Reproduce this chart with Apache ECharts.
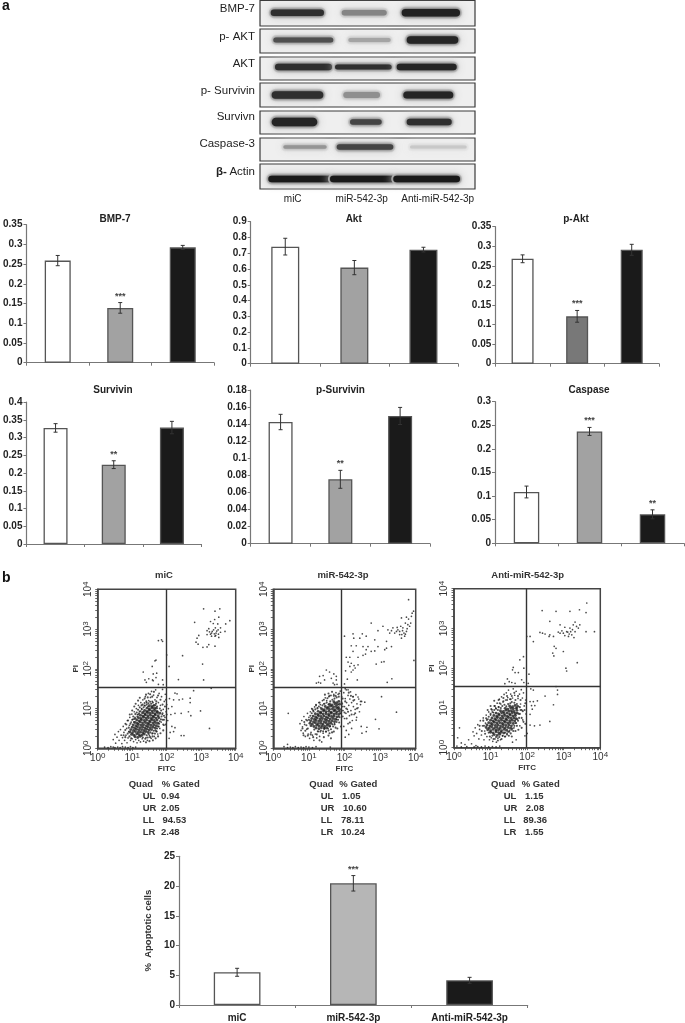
<!DOCTYPE html>
<html><head><meta charset="utf-8">
<script src="https://cdn.jsdelivr.net/npm/echarts@6/dist/echarts.min.js"></script>
<style>html,body{margin:0;padding:0;background:#fff}#c{width:685px;height:1023px;filter:blur(0.35px)}</style>
</head><body><div id="c"></div>
<script>
// ---------- DATA ----------
const categories = ['miC', 'miR-542-3p', 'Anti-miR-542-3p'];
const bmp7Values = [0.259, 0.139, 0.2925], bmp7Errors = [0.013, 0.0135, 0.005], bmp7Stars = ['', '***', ''];
const aktValues = [0.742, 0.609, 0.723], aktErrors = [0.053, 0.045, 0.015], aktStars = ['', '', ''];
const pAktValues = [0.268, 0.121, 0.291], pAktErrors = [0.01, 0.015, 0.014], pAktStars = ['', '***', ''];
const survivinValues = [0.327, 0.2235, 0.328], survivinErrors = [0.012, 0.011, 0.0175], survivinStars = ['', '**', ''];
const pSurvivinValues = [0.1425, 0.0754, 0.1496], pSurvivinErrors = [0.009, 0.0105, 0.01], pSurvivinStars = ['', '**', ''];
const caspaseValues = [0.1087, 0.237, 0.0614], caspaseErrors = [0.0125, 0.0085, 0.0095], caspaseStars = ['', '***', '**'];
const apoptoticValues = [5.5, 20.46, 4.15], apoptoticErrors = [0.67, 1.3, 0.5], apoptoticStars = ['', '***', ''];

const quadNames = ['UL', 'UR', 'LL', 'LR'];
const gatedMiC = ['0.94', '2.05', '94.53', '2.48'];
const gatedMiR = ['1.05', '10.60', '78.11', '10.24'];
const gatedAnti = ['1.15', '2.08', '89.36', '1.55'];

const blotLabels = ['BMP-7', 'p- AKT', 'AKT', 'p- Survivin', 'Survivn', 'Caspase-3'];

// Western blot band densities, row by lane (0..1)
const bandDensity = [
  [0.9, 0.5, 0.96], [0.75, 0.35, 0.95], [0.9, 0.9, 0.95],
  [0.9, 0.45, 0.95], [0.95, 0.8, 0.9], [0.42, 0.8, 0.18], [1, 1, 1]
];

const logDecades = [1, 10, 100, 1000, 10000];
const logTicks = [1,2,3,4,5,6,7,8,9,10,20,30,40,50,60,70,80,90,100,200,300,400,500,600,700,800,900,1000,2000,3000,4000,5000,6000,7000,8000,9000,10000];

// Flow cytometry events, [log10 FITC, log10 PI]: the crowded centre of each population
const coreMiC = [
[1.08,.29],[1.16,.27],[1.23,.3],[.98,.35],[1.05,.33],[1.13,.36],[1.2,.34],[1.28,.33],[1.35,.36],[.93,.41],[1.01,.39],[1.09,.42],[1.17,.4],[1.24,.41],[1.31,.39],[1.39,.42],[1.46,.4],[.96,.47],[1.04,.45],[1.12,.48],[1.19,.46],[1.27,.47],[1.34,.45],[1.42,.48],[1.49,.46],[1.56,.47],[1.0,.53],[1.07,.51],[1.15,.54],[1.22,.52],[1.3,.53],[1.37,.51],[1.45,.54],[1.52,.52],[1.6,.53],[1.67,.51],[1.03,.59],[1.11,.57],[1.18,.6],[1.26,.58],[1.33,.59],[1.41,.57],[1.48,.6],[1.55,.58],[1.63,.59],[1.7,.57],[1.08,.65],[1.15,.63],[1.23,.66],[1.3,.64],[1.38,.65],[1.45,.63],[1.52,.66],[1.6,.64],[1.67,.65],[1.74,.63],[1.13,.71],[1.2,.69],[1.27,.72],[1.35,.7],[1.42,.71],[1.5,.69],[1.57,.72],[1.64,.7],[1.72,.71],[1.18,.77],[1.25,.75],[1.33,.78],[1.4,.76],[1.47,.77],[1.55,.75],[1.62,.78],[1.69,.76],[1.77,.77],[1.24,.83],[1.31,.81],[1.38,.84],[1.45,.82],[1.53,.83],[1.6,.81],[1.67,.84],[1.75,.82],[1.3,.89],[1.37,.87],[1.44,.9],[1.51,.88],[1.59,.89],[1.66,.87],[1.73,.9],[1.8,.88],[1.36,.95],[1.43,.93],[1.5,.96],[1.58,.94],[1.65,.95],[1.72,.93],[1.43,1.01],[1.5,.99],[1.57,1.02],[1.64,1.0],[1.7,1.01],[1.5,1.07],[1.58,1.05],[1.65,1.08]
];
const coreMiR = [
[1.2,.51],[1.28,.49],[1.35,.52],[1.43,.5],[1.5,.51],[1.06,.57],[1.14,.55],[1.22,.58],[1.29,.56],[1.37,.57],[1.44,.55],[1.51,.58],[1.58,.56],[1.03,.63],[1.1,.61],[1.18,.64],[1.25,.62],[1.33,.63],[1.4,.61],[1.48,.64],[1.55,.62],[1.62,.63],[1.05,.69],[1.13,.67],[1.2,.7],[1.28,.68],[1.35,.69],[1.43,.67],[1.5,.7],[1.57,.68],[1.65,.69],[1.72,.67],[1.08,.75],[1.16,.73],[1.23,.76],[1.31,.74],[1.38,.75],[1.46,.73],[1.53,.76],[1.6,.74],[1.68,.75],[1.75,.73],[1.12,.81],[1.19,.79],[1.27,.82],[1.34,.8],[1.42,.81],[1.49,.79],[1.57,.82],[1.64,.8],[1.71,.81],[1.79,.79],[1.18,.87],[1.25,.85],[1.33,.88],[1.4,.86],[1.48,.87],[1.55,.85],[1.62,.88],[1.7,.86],[1.77,.87],[1.84,.85],[1.26,.93],[1.33,.91],[1.41,.94],[1.48,.92],[1.56,.93],[1.63,.91],[1.71,.94],[1.78,.92],[1.85,.93],[1.36,.99],[1.43,.97],[1.51,1.0],[1.58,.98],[1.66,.99],[1.73,.97],[1.8,1.0],[1.86,.98],[1.46,1.05],[1.54,1.03],[1.61,1.06],[1.69,1.04],[1.76,1.05],[1.83,1.03],[1.58,1.11],[1.65,1.09],[1.73,1.12],[1.8,1.1],[1.86,1.11],[1.7,1.17],[1.78,1.15],[1.84,1.18]
];
const coreAnti = [
[1.1,.33],[1.18,.31],[1.25,.34],[1.0,.39],[1.07,.37],[1.15,.4],[1.22,.38],[1.29,.39],[1.36,.37],[.92,.45],[1.0,.43],[1.07,.46],[1.15,.44],[1.22,.45],[1.3,.43],[1.37,.46],[1.44,.44],[.88,.51],[.96,.49],[1.03,.52],[1.11,.5],[1.18,.51],[1.26,.49],[1.33,.52],[1.4,.5],[1.48,.51],[1.55,.49],[.9,.57],[.98,.55],[1.05,.58],[1.13,.56],[1.2,.57],[1.27,.55],[1.35,.58],[1.42,.56],[1.5,.57],[1.57,.55],[.95,.63],[1.02,.61],[1.1,.64],[1.17,.62],[1.25,.63],[1.32,.61],[1.4,.64],[1.47,.62],[1.54,.63],[1.62,.61],[1.0,.69],[1.07,.67],[1.15,.7],[1.22,.68],[1.3,.69],[1.37,.67],[1.44,.7],[1.52,.68],[1.59,.69],[1.66,.67],[1.04,.75],[1.12,.73],[1.19,.76],[1.27,.74],[1.34,.75],[1.42,.73],[1.49,.76],[1.56,.74],[1.64,.75],[1.7,.73],[1.09,.81],[1.17,.79],[1.24,.82],[1.32,.8],[1.39,.81],[1.46,.79],[1.54,.82],[1.61,.8],[1.68,.81],[1.15,.87],[1.22,.85],[1.3,.88],[1.37,.86],[1.45,.87],[1.52,.85],[1.59,.88],[1.67,.86],[1.73,.87],[1.27,.93],[1.35,.91],[1.42,.94],[1.5,.92],[1.57,.93],[1.64,.91],[1.72,.94],[1.4,.99],[1.47,.97],[1.55,1.0],[1.62,.98],[1.7,.99],[1.52,1.05],[1.6,1.03],[1.67,1.06],[1.74,1.04]
];
// the edge of each crowded centre
const fringeMiC = [
[.95,.62],[1.0,.72],[1.05,.66],[1.03,.8],[1.1,.75],[1.09,.86],[1.15,.8],[1.13,.9],[1.2,.88],[1.17,.97],[1.24,.93],[1.22,1.03],[1.28,.98],[1.27,1.08],[1.33,1.03],[1.32,.92],[1.37,1.07],[1.36,1.14],[1.42,1.1],[1.41,1.18],[1.47,1.13],[1.46,1.05],[1.52,1.17],[1.55,1.12],[1.6,1.15],[1.62,1.08],[1.69,1.12],[1.72,1.05],[1.06,.74],[1.18,.85],
[1.42,.33],[1.48,.36],[1.53,.4],[1.58,.37],[1.62,.44],[1.67,.45],[1.72,.5],[1.75,.55],[1.78,.62],[1.8,.68],[1.83,.73],[1.85,.8],[1.88,.88],[1.84,.95],[1.8,1.0],[1.77,.55],[1.71,.42],[1.66,.37],[1.59,.3],[1.52,.28],[1.45,.27],[1.38,.24],[1.31,.27],[1.88,.72],[1.92,.82],[1.9,.6],
[.75,.33],[.8,.46],[.87,.37],[.83,.6],[.9,.52],[.88,.7],[.8,.28],[.92,.3],[.97,.25],[.93,.85],[1.0,.95],[1.06,1.05],[1.1,1.12],[1.17,1.2],[1.22,1.27],[1.3,1.1],[1.36,1.25],[1.4,1.35],[1.45,1.28],[1.52,1.36],[1.58,1.3],[1.63,1.42],[1.7,1.18],[1.75,1.33],[1.82,1.22],[1.88,1.1],[1.95,1.05],[1.98,1.22],[1.92,.72],[2.0,.85],[1.97,.6],[1.9,.45],[1.82,.38],[1.75,.3],[1.68,.25],[1.6,.2],[1.5,.18],[1.4,.15]
];
const fringeMiR = [
[1.0,.72],[1.04,.82],[1.08,.88],[1.13,.93],[1.18,.98],[1.24,1.0],[1.28,1.05],[1.33,1.02],[1.38,1.08],[1.44,1.12],[1.5,1.15],[1.55,1.1],[1.6,1.18],[1.66,1.22],[1.72,1.25],[1.78,1.28],[1.84,1.3],[1.1,.98],[1.2,1.08],[1.3,1.15],[1.42,1.22],[1.52,1.26],[1.58,1.32],[1.7,1.32],
[1.55,.45],[1.62,.48],[1.68,.55],[1.72,.6],[1.78,.66],[1.82,.72],[1.86,.78],[1.88,.88],[1.92,.95],[1.95,1.05],[1.92,1.15],[1.75,.52],[1.65,.4],[1.58,.38],[1.48,.42],[1.4,.43],[1.32,.42],[1.25,.43],[1.15,.47],[1.85,.65],[1.95,.8],[2.0,.9],[2.05,1.0],[2.02,1.18],[2.06,.75],[2.1,.92],
[.82,.5],[.87,.66],[.93,.58],[.9,.44],[.97,.5],[.95,.7],[.85,.33],[.97,.32],[1.05,.35],[1.12,.28],[1.22,.35],[1.3,.2],[1.42,.28],[1.55,.32],[1.62,.25],[1.7,.42],[1.8,.5],[1.9,.55],[2.15,.65],[2.2,.85],[2.3,.88],[2.25,1.2],[2.35,1.0],[2.18,1.32],[2.12,1.4],[1.95,1.25],[1.85,1.38],[1.75,1.32],[1.65,1.42],[1.55,1.38],[1.45,1.35]
];
const fringeAnti = [
[.9,.7],[.95,.78],[1.0,.85],[1.05,.9],[1.1,.95],[1.15,.98],[1.2,.95],[1.22,1.02],[1.28,1.0],[1.32,1.05],[1.38,1.08],[1.43,1.04],[1.48,1.1],[1.54,1.12],[1.58,1.15],[1.65,1.13],[1.72,1.1],[1.02,.97],[1.12,1.05],[1.25,1.12],[1.35,1.17],[1.45,1.2],[1.55,1.22],[1.68,1.2],
[1.4,.38],[1.48,.4],[1.52,.43],[1.6,.48],[1.65,.55],[1.7,.62],[1.75,.68],[1.78,.75],[1.8,.85],[1.82,.95],[1.8,1.02],[1.72,.55],[1.62,.42],[1.55,.36],[1.45,.33],[1.33,.3],[1.24,.27],[1.15,.27],[1.05,.3],[1.85,.75],[1.88,.92],[1.9,.65],
[.7,.55],[.76,.42],[.82,.55],[.85,.35],[.8,.68],[.88,.74],[.95,.38],[.98,.28],[1.08,.22],[1.2,.18],[1.3,.22],[1.4,.28],[1.5,.3],[1.58,.28],[1.68,.42],[1.76,.45],[1.85,.5],[1.95,.6],[1.93,.95],[1.95,1.12],[1.82,1.2],[1.75,1.3],[1.65,1.38],[1.58,1.3],[1.45,1.3],[1.35,1.25],[1.22,1.2],[1.1,1.18],[1.0,1.05],[.92,.95]
];
// the remaining events
const eventsMiC = [
[.45,.22],[.5,.35],[.52,.13],[.56,.28],[.6,.42],[.62,.2],[.66,.47],[.68,.33],[.7,.12],[.72,.27],[.74,.55],[.76,.4],[.78,.2],[.8,.62],[.82,.33],[.84,.5],[.85,.14],[.86,.7],[.88,.26],[.9,.42],[.92,.58],[.93,.78],[.95,.2],[.97,.66],[.99,.86],[1.0,.24],[1.02,.73],[1.04,.17],[1.06,.92],[1.08,.78],[1.1,.22],[1.12,1.0],[1.14,.14],[1.15,.85],[1.18,1.08],[1.19,.2],[1.21,.93],[1.24,.16],[1.25,1.15],[1.27,1.0],[1.29,.24],[1.31,1.22],[1.33,.18],[1.35,1.08],[1.38,1.3],[1.4,.27],[1.42,1.15],[1.44,.2],[1.47,1.38],[1.48,1.2],[1.5,.32],[1.53,1.28],[1.55,.25],[1.56,1.43],[1.58,1.18],[1.6,.38],[1.62,1.34],[1.64,.3],[1.66,1.22],[1.68,1.47],[1.7,.43],[1.72,1.28],[1.74,.36],[1.76,1.15],[1.78,1.38],[1.8,.5],[1.82,1.08],[1.84,.66],[1.85,1.3],[1.87,.85],[1.88,1.48],[1.9,.98],[1.92,.58],[1.93,1.18],[1.95,.78],[1.96,1.36],[1.98,.92],[2.0,1.1],[2.03,.7],[2.05,1.0],[2.08,1.25],[2.1,.4],[2.12,.85],
[.2,.03],[.3,.02],[.38,.04],[.45,.03],[.5,.02],[.58,.03],[.65,.02],[.72,.04],[.8,.03],[.88,.02],[.95,.04],[1.02,.02],[1.1,.03],
[2.24,1.39],[2.3,1.37],[2.46,1.24],[2.68,1.26],[2.68,1.15],[2.36,1.22],[2.2,1.22],[2.15,1.05],[2.24,.88],[2.42,.88],[2.63,.92],[2.7,.82],[2.98,.94],[3.24,.5],[2.15,.55],[2.24,.52],[2.2,.42],[2.42,.32],[2.5,.32],[2.07,.25],[2.78,1.45],[3.29,1.51],
[1.32,1.92],[1.58,2.06],[1.66,2.20],[1.69,2.22],[1.76,2.71],[1.85,2.73],[1.88,2.69],[1.61,1.87],[1.71,1.89],[1.69,1.78],[1.59,1.72],[1.48,1.75],[1.37,1.72],[1.41,1.66],[1.61,1.70],[1.76,1.61],[1.88,1.72],[1.9,1.6],
[3.07,3.51],[3.40,3.45],[3.54,3.51],[3.51,3.30],[3.39,3.24],[3.27,3.19],[3.35,3.14],[3.48,3.13],[3.83,3.21],[3.71,3.13],[2.81,3.17],[3.56,3.03],[3.41,3.03],[3.22,3.01],[3.17,2.96],[3.32,2.94],[3.49,2.98],[3.56,2.92],[3.43,2.90],[3.27,2.87],[3.17,2.86],[3.69,2.94],[3.40,2.82],[3.51,2.79],[2.93,2.84],[2.88,2.77],[2.85,2.67],[2.91,2.62],[3.05,2.54],[3.22,2.61],[3.17,2.55],[3.40,2.57],[2.46,2.33],[2.0,2.35],[2.07,2.06],[3.04,2.12],[3.07,1.72],[2.34,1.73],[3.3,2.9],[3.38,2.88],[3.45,2.95],[3.36,2.98],[3.5,2.87],[3.3,2.82],[3.42,2.84],[3.24,2.93]
];
const eventsMiR = [
[.75,.62],[.78,.45],[.8,.7],[.82,.54],[.84,.38],[.86,.8],[.88,.6],[.9,.3],[.92,.72],[.94,.48],[.96,.88],[.98,.36],[1.0,.78],[1.02,.25],[1.04,.92],[1.06,.4],[1.08,1.0],[1.1,.33],[1.12,.95],[1.14,.2],[1.16,1.04],[1.18,.36],[1.2,1.1],[1.22,.26],[1.24,1.02],[1.26,.42],[1.28,1.15],[1.3,.3],[1.32,1.1],[1.34,.45],[1.36,.16],[1.38,1.2],[1.4,.38],[1.42,1.12],[1.44,.5],[1.46,1.27],[1.48,.42],[1.5,1.2],[1.54,.5],[1.56,1.3],[1.6,.55],[1.62,1.33],[1.66,.6],[1.7,1.36],[1.72,.62],[1.76,1.4],[1.78,.72],[1.82,1.36],[1.84,.8],[1.88,1.44],[1.9,.88],
[1.92,1.3],[1.94,1.12],[1.96,.95],[1.98,1.4],[2.0,1.05],[2.0,.75],[2.02,1.25],[2.04,.88],[2.05,1.47],[2.06,1.15],[2.08,.98],[2.1,1.33],[2.1,.62],[2.12,1.08],[2.14,.82],[2.15,1.24],[2.17,1.42],[2.18,.95],[2.2,1.15],[2.22,.7],[2.24,1.3],[2.25,1.05],[2.27,.85],[2.28,1.22],[2.3,.98],[2.32,1.35],[2.34,.78],[2.35,1.12],[2.38,1.02],[2.4,1.24],[2.42,.92],[2.45,1.1],[2.48,1.18],[2.05,.45],[2.12,.35],[1.98,.55],[2.02,.28],[2.2,.5],
[.42,.88],[.3,.04],[.4,.02],[.48,.03],[.55,.02],[.62,.04],[.7,.02],[.78,.03],[.85,.02],[.92,.04],[1.0,.03],[1.1,.02],[1.2,.04],[1.6,.03],[.4,.1],
[3.80,3.74],[3.94,3.45],[3.90,3.40],[3.88,3.32],[3.74,3.30],[3.80,3.25],[3.60,3.28],[2.75,3.15],[3.08,3.07],[2.94,2.96],[3.22,2.98],[3.27,2.90],[3.41,2.90],[3.50,2.98],[3.55,2.86],[3.60,2.77],[3.69,2.82],[3.74,2.94],[3.83,3.07],[3.64,3.03],[3.58,3.07],[3.78,3.11],[3.71,3.15],[3.32,2.96],[3.36,3.03],[3.46,2.94],[3.67,2.90],[3.61,2.86],[3.71,2.87],[3.76,3.01],[3.86,3.15],[3.55,2.94],[3.63,2.96],[3.48,3.04],
[2.0,2.82],[2.24,2.88],[2.26,2.77],[2.5,2.88],[2.61,2.82],[2.43,2.77],[2.85,2.73],[3.18,2.69],[2.94,2.56],[3.18,2.52],[3.32,2.56],[3.13,2.48],[2.19,2.58],[2.33,2.58],[2.52,2.56],[2.66,2.56],[2.61,2.48],[2.85,2.45],[2.75,2.44],[2.52,2.34],[2.59,2.37],[2.24,2.44],[2.05,2.29],[2.15,2.29],[2.38,2.29],[2.10,2.17],[2.19,2.14],[2.27,2.08],[2.38,2.10],[2.15,2.06],[2.24,1.97],[2.30,2.02],[2.03,1.95],[2.19,1.92],[2.89,2.12],[3.04,2.17],[3.11,2.18],[2.08,1.74],[2.36,1.72],[3.33,1.75],[3.2,1.66],[3.95,2.21],[2.0,1.62],
[1.49,1.97],[1.58,1.92],[1.70,1.87],[1.77,1.81],[1.30,1.81],[1.40,1.83],[1.44,1.72],[1.21,1.64],[1.27,1.66],[1.33,1.64],[1.63,1.76],[1.68,1.64],[1.77,1.72],[1.72,1.60],[1.79,1.61],
[3.04,1.30],[3.46,.91],[2.87,.73],[2.97,.49],[2.47,.55],[2.63,.53],[2.61,.42],[2.49,.38],[2.33,.71],[2.45,1.18],[2.57,1.16],[2.38,1.29],[2.24,1.30],[2.10,1.47],[2.02,1.50]
];
const eventsAnti = [
[.52,.4],[.55,.3],[.58,.5],[.62,.36],[.65,.58],[.68,.22],[.7,.46],[.72,.68],[.75,.32],[.78,.55],[.8,.75],[.82,.2],[.84,.42],[.86,.62],[.88,.82],[.9,.28],[.93,.72],[.95,.9],[.97,.2],[1.0,.82],[1.02,.25],[1.04,.95],[1.06,.16],[1.08,.88],[1.1,1.05],[1.12,.22],[1.14,1.0],[1.16,.14],[1.18,1.12],[1.2,.24],[1.22,1.03],[1.24,1.22],[1.27,.2],[1.28,1.1],[1.3,1.28],[1.33,.3],[1.34,1.15],[1.37,1.34],[1.39,.28],[1.41,1.2],[1.43,1.38],[1.45,.36],[1.47,1.26],[1.49,1.45],[1.51,.4],[1.53,1.22],[1.55,1.35],[1.58,.45],[1.6,1.25],[1.62,1.48],[1.64,.5],[1.66,1.32],[1.68,.62],[1.7,1.42],[1.72,1.0],[1.73,.72],[1.75,1.24],[1.77,.85],[1.79,1.35],[1.8,.55],[1.82,1.1],[1.84,1.46],[1.85,.95],[1.87,1.25],[1.88,.7],[1.9,1.38],[1.92,1.05],[1.94,.3],[1.96,1.2],[1.97,.85],
[.15,.5],[.1,.25],[.2,.12],[.3,.08],[.4,.2],[.48,.1],[.6,.05],[.08,.04],[.2,.02],[.35,.03],[.55,.02],[.65,.03],[.75,.02],[.85,.04],[.95,.02],[1.05,.03],[1.15,.02],[1.25,.04],[1.6,.14],[1.7,.2],
[3.63,3.64],[2.41,3.45],[2.79,3.43],[3.17,3.43],[3.43,3.47],[3.61,3.40],[2.62,3.18],[2.90,3.09],[3.31,3.16],[3.44,3.09],[3.35,3.05],[3.26,3.09],[3.17,3.01],[3.03,3.03],[3.24,2.97],[3.40,3.01],[3.31,2.92],[3.08,2.92],[2.99,2.88],[2.85,2.91],[3.15,2.86],[3.03,2.82],[3.22,2.84],[3.28,2.77],[3.13,2.80],[2.90,2.88],[2.95,2.94],[3.11,2.91],[3.19,2.92],[3.61,2.92],[3.84,2.92],[2.62,2.84],[2.72,2.80],[2.35,2.90],[2.42,2.88],[2.49,2.86],[2.6,2.8],[2.17,2.67],[1.99,2.80],[2.08,2.80],[2.74,2.55],[2.79,2.50],[2.99,2.42],[2.70,2.38],[2.73,2.31],[3.37,2.14],[3.06,2.0],[3.08,1.93],[2.05,1.85],[2.03,1.62],
[1.80,2.21],[1.90,2.29],[1.91,2.0],[1.76,1.89],[1.67,1.89],[1.62,2.02],[1.60,1.96],[1.46,1.73],[1.51,1.66],[1.58,1.64],[1.67,1.62],[1.39,1.61],[1.91,1.64],[1.85,1.71],
[2.10,1.48],[2.17,1.45],[2.49,1.30],[2.79,1.54],[2.83,1.45],[2.83,1.34],[2.72,1.08],[2.62,.66],[2.35,.57],[2.20,.55],[2.08,1.16],[2.17,1.16],[2.28,1.18],[2.12,1.06],[2.21,1.06],[2.14,.97],[2.08,.84],[2.08,.57],[2.0,.36]
];
// quadrant gates, FITC and PI
const gateX = [94, 83, 95], gateY = [35, 35, 36];

// ---------- LAYOUT ----------
const FONT = '"Liberation Sans", Arial, sans-serif';
const INK = '#222', AXIS = '#777';
const FILLS = ['#ffffff', '#a2a2a2', '#1a1a1a'];
const panels = [
  {title:'BMP-7', v:bmp7Values, e:bmp7Errors, s:bmp7Stars, max:0.35, step:0.05, box:[24,224.7,214,362.7], bw:26, tx:115, ty:219, fills:FILLS},
  {title:'Akt', v:aktValues, e:aktErrors, s:aktStars, max:0.9, step:0.1, box:[250.7,221.7,458,363.7], bw:28, tx:353.7, ty:219, fills:FILLS},
  {title:'p-Akt', v:pAktValues, e:pAktErrors, s:pAktStars, max:0.35, step:0.05, box:[495.3,226.7,659,363.7], bw:22, tx:576, ty:219, fills:['#ffffff','#787878','#1a1a1a']},
  {title:'Survivin', v:survivinValues, e:survivinErrors, s:survivinStars, max:0.4, step:0.05, box:[24,402,201,544], bw:24, tx:113, ty:390, fills:FILLS},
  {title:'p-Survivin', v:pSurvivinValues, e:pSurvivinErrors, s:pSurvivinStars, max:0.18, step:0.02, box:[250.7,390,430,543.7], bw:24, tx:340.5, ty:390, fills:FILLS},
  {title:'Caspase', v:caspaseValues, e:caspaseErrors, s:caspaseStars, max:0.3, step:0.05, box:[495,401.7,684,543.3], bw:25.5, tx:589, ty:390, fills:FILLS},
  {title:'', v:apoptoticValues, e:apoptoticErrors, s:apoptoticStars, max:25, step:5, box:[179,856.3,527.7,1005], bw:46.7, fills:['#ffffff','#b6b6b6','#1a1a1a'], xlabels:true, yname:'%  Apoptotic cells'}
];
const flows = [
  {name:'miC', core:coreMiC, fringe:fringeMiC, ev:eventsMiC, box:[97.7,589.3,235.7,748.3], tx:164, gx:gateX[0], gy:gateY[0]},
  {name:'miR-542-3p', core:coreMiR, fringe:fringeMiR, ev:eventsMiR, box:[273.3,589.3,415.7,748.3], tx:343, gx:gateX[1], gy:gateY[1]},
  {name:'Anti-miR-542-3p', core:coreAnti, fringe:fringeAnti, ev:eventsAnti, box:[454,588.7,600.3,747.7], tx:527.7, gx:gateX[2], gy:gateY[2]}
];
const tables = [
  {gated:gatedMiC, quadX:128.7, headX:161.7, nameX:142.7, valX:[161,161,162.5,161]},
  {gated:gatedMiR, quadX:309.3, headX:339.3, nameX:320.7, valX:[342,343,341,341]},
  {gated:gatedAnti, quadX:491, headX:521.7, nameX:503.7, valX:[525,525.7,523.3,525]}
];
const tableY = [784, 796, 808, 820, 832];
const blotBox = {left:260, top:0, width:215, height:190};
const panelSpans = [[0.5,26],[29,53],[57,80],[83,107],[111,134],[138,161],[164,189]];
const laneSpans = [
  [[10.7,64],[81.7,126.7],[141.7,200]], [[13.3,73.3],[88.3,130.7],[146.7,198.3]], [[15,72],[75,131.7],[136.7,196.7]],
  [[11.7,63.3],[83.3,120],[143.3,193.3]], [[11.7,57.3],[90,121.7],[146.7,191.7]], [[23.3,66.7],[76.7,133.3],[150,206.7]], [[8.3,72],[70,135],[133.3,200]]
];
const rowCentres = [12.7, 40, 67, 95, 122, 147, 179];
const rowThick = [[6.5,5.5,7.5],[5,4,7.5],[6.5,5,6.5],[7.5,6,7],[8.5,5.5,6.5],[3.5,5.5,3],[6.5,6.5,6.5]];
const blotLabelY = [9, 37, 64, 91, 117, 144];

// ---------- OPTION ----------
const grids = [], xAxes = [], yAxes = [], series = [], titles = [], graphics = [];
panels.forEach((p, i) => {
  const [l,t,r,b] = p.box;
  grids.push({left:l, top:t, width:r-l, height:b-t});
  xAxes.push({type:'category', gridIndex:i, data:categories,
    axisLine:{lineStyle:{color:AXIS, width:1.2}}, axisTick:{show:true, alignWithLabel:false, length:3, lineStyle:{color:AXIS}},
    axisLabel:{show:!!p.xlabels, interval:0, margin:8, color:INK, fontFamily:FONT, fontWeight:'bold', fontSize:10}});
  yAxes.push({type:'value', gridIndex:i, min:0, max:p.max, interval:p.step,
    name:p.yname||'', nameLocation:'middle', nameGap:14, nameTextStyle:{color:'#333', fontFamily:FONT, fontSize:9.5, fontWeight:'bold'},
    axisLine:{show:true, lineStyle:{color:AXIS, width:1.2}}, axisTick:{show:true, length:3, lineStyle:{color:AXIS}},
    axisLabel:{margin:4, color:INK, fontFamily:FONT, fontWeight:'bold', fontSize:10}, splitLine:{show:false}});
  series.push({type:'bar', xAxisIndex:i, yAxisIndex:i, barWidth:p.bw, silent:true, animation:false,
    data:p.v.map((v,k)=>({value:v, itemStyle:{color:p.fills[k], borderColor:'#555', borderWidth:1.3}}))});
  series.push({type:'custom', xAxisIndex:i, yAxisIndex:i, silent:true, animation:false, z:5,
    encode:{x:0, y:[1,2]},
    data:p.v.map((v,k)=>[k, v-p.e[k], v+p.e[k]]),
    renderItem:(params, api) => {
      const k = api.value(0), lo = api.coord([k, api.value(1)]), hi = api.coord([k, api.value(2)]);
      const st = {stroke:'#333', lineWidth:1};
      const kids = [
        {type:'line', shape:{x1:lo[0],y1:lo[1],x2:hi[0],y2:hi[1]}, style:st},
        {type:'line', shape:{x1:hi[0]-2,y1:hi[1],x2:hi[0]+2,y2:hi[1]}, style:st},
        {type:'line', shape:{x1:lo[0]-2,y1:lo[1],x2:lo[0]+2,y2:lo[1]}, style:st}];
      const star = p.s[params.dataIndex];
      if (star) kids.push({type:'text', style:{text:star, x:hi[0], y:hi[1]-2, align:'center', verticalAlign:'bottom', font:'bold 9px '+FONT, fill:'#444'}});
      return {type:'group', children:kids};
    }});
  if (p.title) titles.push({text:p.title, left:p.tx, top:p.ty-6, textAlign:'center', padding:0, textStyle:{color:INK, fontFamily:FONT, fontWeight:'bold', fontSize:10, lineHeight:12}});
});
const base = panels.length;
const logLabel = {
  formatter: v => '{b|10}{s|' + Math.round(Math.log10(v)) + '}',
  rich:{b:{fontFamily:FONT, fontSize:10, color:'#333'}, s:{fontFamily:FONT, fontSize:8, color:'#333', padding:[0,0,5,0]}}
};
const unlog = pts => pts.map(p => [Math.pow(10,p[0]), Math.pow(10,p[1])]);
flows.forEach((f, i) => {
  const idx = base + i, [l,t,r,b] = f.box;
  grids.push({left:l, top:t, width:r-l, height:b-t, show:true, borderColor:'#444', borderWidth:1.5, backgroundColor:'transparent'});
  const nameStyle = {color:'#333', fontFamily:FONT, fontWeight:'bold', fontSize:8};
  const lineSt = {show:true, onZero:false, lineStyle:{color:'#444', width:1.5}};
  const tickSt = {show:true, length:2.5, customValues:logTicks, lineStyle:{color:'#444', width:0.8}};
  xAxes.push({type:'log', logBase:10, gridIndex:idx, min:1, max:10000, name:'FITC', nameLocation:'middle', nameGap:16, nameTextStyle:nameStyle,
    axisLine:lineSt, axisTick:tickSt,
    axisLabel:Object.assign({margin:3, customValues:logDecades}, logLabel), splitLine:{show:false}});
  yAxes.push({type:'log', logBase:10, gridIndex:idx, min:1, max:10000, name:'PI', nameLocation:'middle', nameGap:18, nameTextStyle:nameStyle,
    axisLine:lineSt, axisTick:tickSt,
    axisLabel:Object.assign({margin:3, rotate:90, customValues:logDecades}, logLabel), splitLine:{show:false}});
  series.push({type:'scatter', xAxisIndex:idx, yAxisIndex:idx, symbolSize:2.9, silent:true, animation:false,
    itemStyle:{color:'#1c1c1c'}, data:unlog(f.core)});
  series.push({type:'scatter', xAxisIndex:idx, yAxisIndex:idx, symbolSize:2.1, silent:true, animation:false,
    itemStyle:{color:'#262626'}, data:unlog(f.fringe)});
  series.push({type:'scatter', xAxisIndex:idx, yAxisIndex:idx, symbolSize:1.7, silent:true, animation:false,
    itemStyle:{color:'#1c1c1c'},
    data:unlog(f.ev),
    markLine:{silent:true, symbol:'none', animation:false, label:{show:false}, lineStyle:{color:'#333', width:1.4, type:'solid'}, data:[{xAxis:f.gx},{yAxis:f.gy}]}});
  graphics.push({type:'text', style:{text:f.name, x:f.tx, y:575, align:'center', verticalAlign:'middle', font:'bold 9.5px '+FONT, fill:'#333'}});
});
// blot
const bi = base + flows.length;
grids.push(Object.assign({}, blotBox));
xAxes.push({type:'value', gridIndex:bi, min:0, max:blotBox.width, show:false});
yAxes.push({type:'value', gridIndex:bi, min:0, max:blotBox.height, inverse:true, show:false});
series.push({type:'custom', xAxisIndex:bi, yAxisIndex:bi, silent:true, animation:false, encode:{x:0,y:1},
  data:panelSpans.map(s=>[0,s[0],blotBox.width,s[1]]),
  renderItem:(params, api) => {
    const a = api.coord([api.value(0),api.value(1)]), c = api.coord([api.value(2),api.value(3)]);
    return {type:'rect', shape:{x:a[0],y:a[1],width:c[0]-a[0],height:c[1]-a[1]}, style:{fill:'#efefef', stroke:'#3a3a3a', lineWidth:1.2}};
  }});
const bandRows = [];
bandDensity.forEach((row,r) => row.forEach((d,k) => bandRows.push([laneSpans[r][k][0], laneSpans[r][k][1], rowCentres[r], rowThick[r][k], d])));
series.push({type:'custom', xAxisIndex:bi, yAxisIndex:bi, silent:true, animation:false, z:3, encode:{x:[0,1],y:2},
  data:bandRows,
  renderItem:(params, api) => {
    const a = api.coord([api.value(0),api.value(2)]), c = api.coord([api.value(1),api.value(2)]);
    const t = api.value(3), d = api.value(4);
    const g = Math.round(238 - d*212), col = `rgb(${g},${g},${g})`;
    const h = Math.round(238 - d*32), halo = `rgb(${h},${h},${h})`;
    return {type:'group', children:[
      {type:'rect', shape:{x:a[0]-2,y:a[1]-t/2-2.5,width:c[0]-a[0]+4,height:t+5,r:t/2+2.5}, style:{fill:halo, shadowBlur:8, shadowColor:halo}},
      {type:'rect', shape:{x:a[0],y:a[1]-t/2,width:c[0]-a[0],height:t,r:t/2}, style:{fill:col, shadowBlur:3.5, shadowColor:col}}
    ]};
  }});
// text
blotLabels.forEach((s,i) => graphics.push({type:'text', style:{text:s, x:255, y:blotLabelY[i], align:'right', verticalAlign:'middle', font:'11.5px '+FONT, fill:INK}}));
graphics.push({type:'text', style:{text:'β-', x:221.5, y:172, align:'center', verticalAlign:'middle', font:'bold 11.5px '+FONT, fill:INK}});
graphics.push({type:'text', style:{text:'Actin', x:255, y:172, align:'right', verticalAlign:'middle', font:'11.5px '+FONT, fill:INK}});
[292.7,361.7,437.7].forEach((x,i) => graphics.push({type:'text', style:{text:categories[i], x, y:199, align:'center', verticalAlign:'middle', font:'10px '+FONT, fill:INK}}));
graphics.push({type:'text', style:{text:'a', x:2, y:6, verticalAlign:'middle', font:'bold 14px '+FONT, fill:'#111'}});
graphics.push({type:'text', style:{text:'b', x:2, y:578, verticalAlign:'middle', font:'bold 14px '+FONT, fill:'#111'}});
const cellFont = 'bold 9.5px '+FONT;
tables.forEach(tb => {
  graphics.push({type:'text', style:{text:'Quad', x:tb.quadX, y:tableY[0], verticalAlign:'middle', font:cellFont, fill:'#333'}});
  graphics.push({type:'text', style:{text:'% Gated', x:tb.headX, y:tableY[0], verticalAlign:'middle', font:cellFont, fill:'#333'}});
  quadNames.forEach((q,i) => {
    graphics.push({type:'text', style:{text:q, x:tb.nameX, y:tableY[i+1], verticalAlign:'middle', font:cellFont, fill:'#333'}});
    graphics.push({type:'text', style:{text:tb.gated[i], x:tb.valX[i], y:tableY[i+1], verticalAlign:'middle', font:cellFont, fill:'#333'}});
  });
});
const chart = echarts.init(document.getElementById('c'), null, {width:685, height:1023, renderer:'canvas'});
chart.setOption({backgroundColor:'#fff', animation:false, title:titles, grid:grids, xAxis:xAxes, yAxis:yAxes, series, graphic:graphics});
</script></body></html>
